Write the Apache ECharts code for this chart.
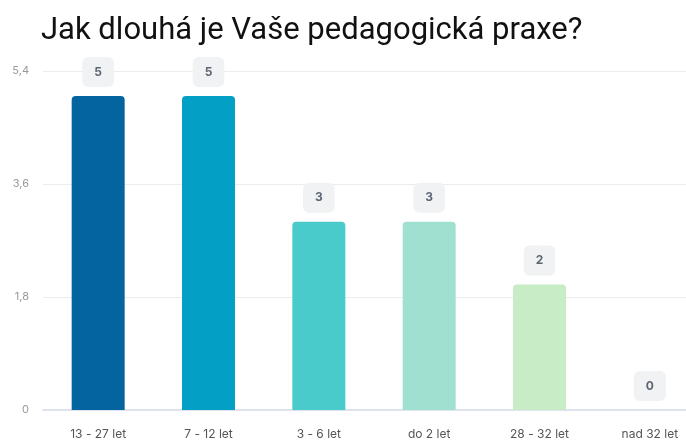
<!DOCTYPE html>
<html>
<head>
<meta charset="utf-8">
<script src="https://cdn.jsdelivr.net/npm/echarts@6/dist/echarts.min.js"></script>
<style>
  html, body { margin: 0; padding: 0; background: #fff; }
  #chart { width: 686px; height: 441px; }
</style>
</head>
<body>
<div id="chart"></div>
<script>
// odpovědi na otázku o délce praxe
const categories = ['13 - 27 let', '7 - 12 let', '3 - 6 let', 'do 2 let', '28 - 32 let', 'nad 32 let'];
const counts = [5, 5, 3, 3, 2, 0];
const barColors = ['#03649f', '#049fc4', '#49cacb', '#9fe0d0', '#c7ecc6', '#e6e6e6'];
const yTicks = [0, 1.8, 3.6, 5.4];

const chart = echarts.init(document.getElementById('chart'), null, { renderer: 'canvas' });

const option = {
    animation: false,
    title: {
        text: 'Jak dlouhá je Vaše pedagogická praxe?',
        left: 36,
        top: 11,
        textStyle: {
            fontFamily: 'Roboto',
            fontSize: 31,
            fontWeight: 'normal',
            color: '#111'
        }
    },
    grid: {
        left: 43,
        right: -19,
        top: 71,
        bottom: 31,
        outerBoundsMode: 'none',
        containLabel: false
    },
    xAxis: {
        type: 'category',
        data: categories,
        axisTick: { show: false },
        axisLine: { lineStyle: { color: '#dfe3ee', width: 2 } },
        axisLabel: {
            color: '#555',
            fontFamily: 'Inter',
            fontSize: 12,
            margin: 18
        }
    },
    yAxis: {
        type: 'value',
        min: 0,
        max: yTicks[yTicks.length - 1],
        interval: 1.8,
        axisLabel: {
            color: '#999',
            fontFamily: 'Inter',
            fontSize: 11,
            margin: 14,
            formatter: (v) => String(Math.round(v * 10) / 10).replace('.', ',')
        },
        splitLine: { lineStyle: { color: '#ececec' } }
    },
    series: [
        {
            type: 'bar',
            barWidth: 53,
            data: counts.map((v, i) => ({
                value: v,
                itemStyle: { color: barColors[i], borderRadius: [4, 4, 0, 0] }
            })),
            label: {
                show: true,
                position: 'top',
                distance: 9,
                color: '#5d6673',
                fontFamily: 'Inter',
                fontWeight: 'bold',
                fontSize: 12,
                backgroundColor: '#f0f2f4',
                borderRadius: 6,
                padding: [9, 12]
            }
        }
    ]
};

chart.setOption(option);
</script>
</body>
</html>
